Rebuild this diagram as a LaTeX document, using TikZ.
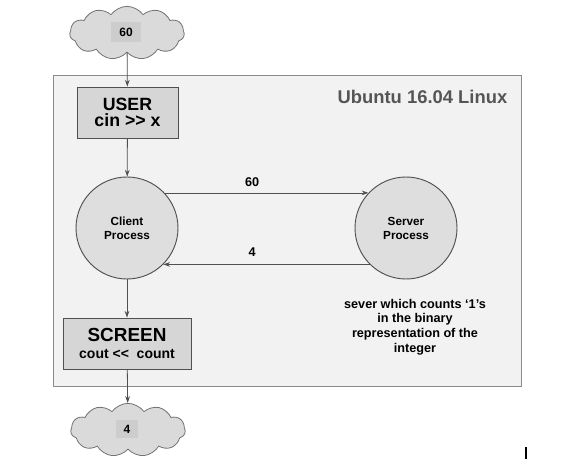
\documentclass[tikz,border=0pt]{standalone}
\usepackage{fontspec}
\setmainfont{Liberation Sans}
\usetikzlibrary{shapes.symbols,arrows.meta}
\definecolor{outerfill}{HTML}{F2F2F2}
\definecolor{outerdraw}{HTML}{8A8A8A}
\definecolor{boxfill}{HTML}{D6D6D6}
\definecolor{circfill}{HTML}{DEDEDE}
\definecolor{cloudfill}{HTML}{DADADA}
\definecolor{labfill}{HTML}{CDCDCD}
\definecolor{linecol}{HTML}{505050}
\definecolor{titlecol}{HTML}{555555}
\tikzset{
  cloudnode/.style={cloud, cloud puffs=11, cloud puff arc=110, aspect=2.2, draw=linecol!80, fill=cloudfill, line width=0.6pt, minimum width=86pt, minimum height=40pt, inner sep=0pt},
  cloudlab/.style={fill=labfill, font=\bfseries\fontsize{9}{10}\selectfont, inner xsep=6pt, inner ysep=4pt},
  iobox/.style={draw=linecol, fill=boxfill, line width=0.7pt, align=center, inner sep=0pt, font=\bfseries},
  proc/.style={circle, draw=linecol, fill=circfill, line width=0.7pt, minimum size=76.5pt, inner sep=0pt, align=center, font=\bfseries\fontsize{8.8}{10.5}\selectfont},
  arr/.style={draw=linecol, line width=0.6pt, -{Stealth[length=5pt,width=3.5pt]}},
  lab/.style={font=\bfseries\fontsize{9.5}{11}\selectfont}
}
\begin{document}
\begin{tikzpicture}[x=0.75pt,y=-0.75pt]
\useasboundingbox (0,0) rectangle (577,467);
\node[draw=outerdraw, fill=outerfill, line width=0.7pt, minimum width=351pt, minimum height=233.25pt, inner sep=0pt] (os) at (287,230.5) {};
\node[anchor=east, text=titlecol, font=\bfseries\fontsize{13.8}{16}\selectfont] (title) at (512,97) {Ubuntu 16.04 Linux};
\node[cloudnode] (cin) at (127,33) {};
\node[cloudlab] (cinlab) at (126,32) {60};
\node[iobox, minimum width=75.75pt, minimum height=38.25pt] (user) at (127.5,112.5) {\fontsize{13.3}{15.5}\selectfont USER\\\fontsize{13.3}{15.5}\selectfont cin >{}> x};
\node[proc] (client) at (127,228) {Client\\Process};
\node[proc] (server) at (406,228) {Server\\Process};
\node[iobox, minimum width=96pt, minimum height=38.25pt] (screen) at (127,343.5) {\fontsize{14.2}{17}\selectfont SCREEN\\[1pt]\fontsize{10.5}{12}\selectfont cout <{}<~~count};
\node[cloudnode] (cout) at (128,430) {};
\node[cloudlab] (coutlab) at (127,429) {4};
\node[lab, align=center] (note) at (415,327) {\fontsize{9.5}{11.3}\selectfont sever which counts ‘1’s\\in the binary\\representation of the\\integer};
\draw[arr] (cin) -- (user);
\draw[arr] (user) -- (client);
\draw[arr] (client.43) -- node[lab, above=1pt, pos=0.43] (l60) {60} (server.137);
\draw[arr] (server.225) -- node[lab, above=2pt, pos=0.57] (l4) {4} (client.315);
\draw[arr] (client) -- (screen);
\draw[arr] (screen) -- (cout);
\coordinate (barA) at (526,447);
\coordinate (barB) at (526,459);
\draw[black, line width=0.8pt] (barA) -- (barB);
\end{tikzpicture}
\end{document}
